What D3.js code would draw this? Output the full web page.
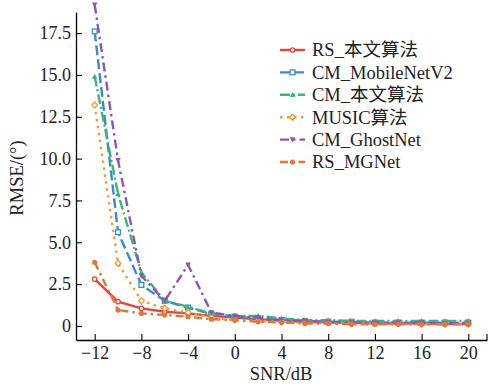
<!DOCTYPE html>
<html><head><meta charset="utf-8">
<script src="https://cdn.jsdelivr.net/npm/d3@7/dist/d3.min.js"></script>
<style>body{margin:0;background:#fff}svg{display:block}</style>
</head><body><svg id="c" width="499" height="388"></svg>
<script>
const snr = [-12,-10,-8,-6,-4,-2,0,2,4,6,8,10,12,14,16,18,20];
const seriesNames = ["RS_本文算法","CM_MobileNetV2","CM_本文算法","MUSIC算法","CM_GhostNet","RS_MGNet"];
const rsOurs     = [2.8,1.45,1.05,0.85,0.75,0.6,0.5,0.4,0.3,0.25,0.2,0.2,0.15,0.15,0.15,0.12,0.12];
const cmMobile   = [17.6,5.6,2.45,1.5,1.1,0.7,0.55,0.45,0.35,0.3,0.25,0.25,0.2,0.2,0.2,0.2,0.2];
const cmOurs     = [14.9,7.9,3.2,1.5,1.15,0.75,0.6,0.6,0.45,0.35,0.35,0.3,0.3,0.3,0.3,0.3,0.3];
const music      = [13.2,3.75,1.5,1.05,0.8,0.5,0.35,0.3,0.25,0.2,0.2,0.15,0.15,0.15,0.1,0.1,0.1];
const cmGhost    = [19.2,9.9,3.0,1.5,3.65,0.8,0.6,0.5,0.35,0.3,0.25,0.2,0.2,0.2,0.2,0.15,0.15];
const rsMG       = [3.8,0.95,0.75,0.65,0.55,0.4,0.35,0.25,0.2,0.15,0.15,0.1,0.1,0.1,0.1,0.1,0.1];
const xTicks = [-12,-8,-4,0,4,8,12,16,20];
const yTicks = [0,2.5,5,7.5,10,12.5,15,17.5];

const allValues = [rsOurs,cmMobile,cmOurs,music,cmGhost,rsMG];
const styles = [
  {color:"#e8453c", dash:null, marker:"circle"},
  {color:"#3a8bd0", dash:"10,4", marker:"square"},
  {color:"#3bb67a", dash:"10,3,2,3", marker:"triangle"},
  {color:"#f59a35", dash:"2.5,4.5", marker:"diamond"},
  {color:"#8e55b5", dash:"9,4,2.5,4", marker:"triangleDown"},
  {color:"#e0783a", dash:"8,4,2.5,4", marker:"filled"}
];

const svg = d3.select("#c");
const font = "'Liberation Serif','Times New Roman',serif";
const x = d3.scaleLinear().domain([-13.6,21.6]).range([76,487]);
const y = d3.scaleLinear().domain([-0.84,18.76]).range([340,12]);

const xAxis = svg.append("g").attr("transform","translate(0,340)")
  .call(d3.axisBottom(x).tickValues(xTicks).tickSizeInner(-6).tickSizeOuter(0).tickPadding(6)
    .tickFormat(d=> d<0 ? "\u2212"+Math.abs(d) : String(d)));
const yAxis = svg.append("g").attr("transform","translate(76,0)")
  .call(d3.axisLeft(y).tickValues(yTicks).tickSizeInner(-6).tickSizeOuter(0).tickPadding(5)
    .tickFormat(d=> d===0 ? "0" : d.toFixed(1)));
[xAxis,yAxis].forEach(g=>{
  g.selectAll("path.domain").attr("stroke","#000").attr("stroke-width",1.3);
  g.selectAll(".tick line").attr("stroke","#000").attr("stroke-width",1.1);
  g.selectAll("text").attr("font-family",font).attr("font-size",18).attr("fill","#222");
});
xAxis.selectAll("text").attr("dy","0.72em");
svg.append("line").attr("x1",487).attr("x2",487).attr("y1",340).attr("y2",334).attr("stroke","#000").attr("stroke-width",1.1);

svg.append("text").attr("x",281).attr("y",380).attr("text-anchor","middle")
  .attr("font-family",font).attr("font-size",18.5).attr("fill","#222").text("SNR/dB");
svg.append("text").attr("transform","translate(23,178) rotate(-90)").attr("text-anchor","middle")
  .attr("font-family",font).attr("font-size",18.5).attr("fill","#222").text("RMSE/(°)");

function drawMarker(g, type, cx, cy, color){
  const s = 2.8;
  if(type==="circle") g.append("circle").attr("cx",cx).attr("cy",cy).attr("r",2.2).attr("fill","#fff").attr("stroke",color).attr("stroke-width",1.3);
  else if(type==="square") g.append("rect").attr("x",cx-2.4).attr("y",cy-2.4).attr("width",4.8).attr("height",4.8).attr("fill","#fff").attr("stroke",color).attr("stroke-width",1.3);
  else if(type==="triangle") g.append("path").attr("d",`M${cx},${cy-s}L${cx+s},${cy+s*0.8}L${cx-s},${cy+s*0.8}Z`).attr("fill",color);
  else if(type==="triangleDown") g.append("path").attr("d",`M${cx},${cy+s}L${cx+s},${cy-s*0.8}L${cx-s},${cy-s*0.8}Z`).attr("fill",color);
  else if(type==="diamond") g.append("path").attr("d",`M${cx},${cy-3.1}L${cx+2.8},${cy}L${cx},${cy+3.1}L${cx-2.8},${cy}Z`).attr("fill","#fff").attr("stroke",color).attr("stroke-width",1.3);
  else if(type==="filled") g.append("circle").attr("cx",cx).attr("cy",cy).attr("r",2.6).attr("fill",color);
}

const line = d3.line().x((d,i)=>x(snr[i])).y(d=>y(d));
allValues.forEach((vals,k)=>{
  const st = styles[k];
  const g = svg.append("g");
  g.append("path").attr("d",line(vals)).attr("fill","none").attr("stroke",st.color)
    .attr("stroke-width",2.4).attr("stroke-dasharray",st.dash);
  vals.forEach((v,i)=>drawMarker(g, st.marker, x(snr[i]), y(v), st.color));
});

const leg = svg.append("g");
seriesNames.forEach((name,k)=>{
  const st = styles[k];
  const cy = 50 + k*22.4;
  leg.append("line").attr("x1",280).attr("x2",305).attr("y1",cy).attr("y2",cy)
    .attr("stroke",st.color).attr("stroke-width",2.4).attr("stroke-dasharray",st.dash);
  drawMarker(leg, st.marker, 292.5, cy, st.color);
  leg.append("text").attr("x",312).attr("y",cy).attr("dy","0.35em")
    .attr("font-family",font+",'Noto Sans CJK SC'").attr("font-size",18.5).attr("fill","#222").text(name);
});
</script></body></html>
